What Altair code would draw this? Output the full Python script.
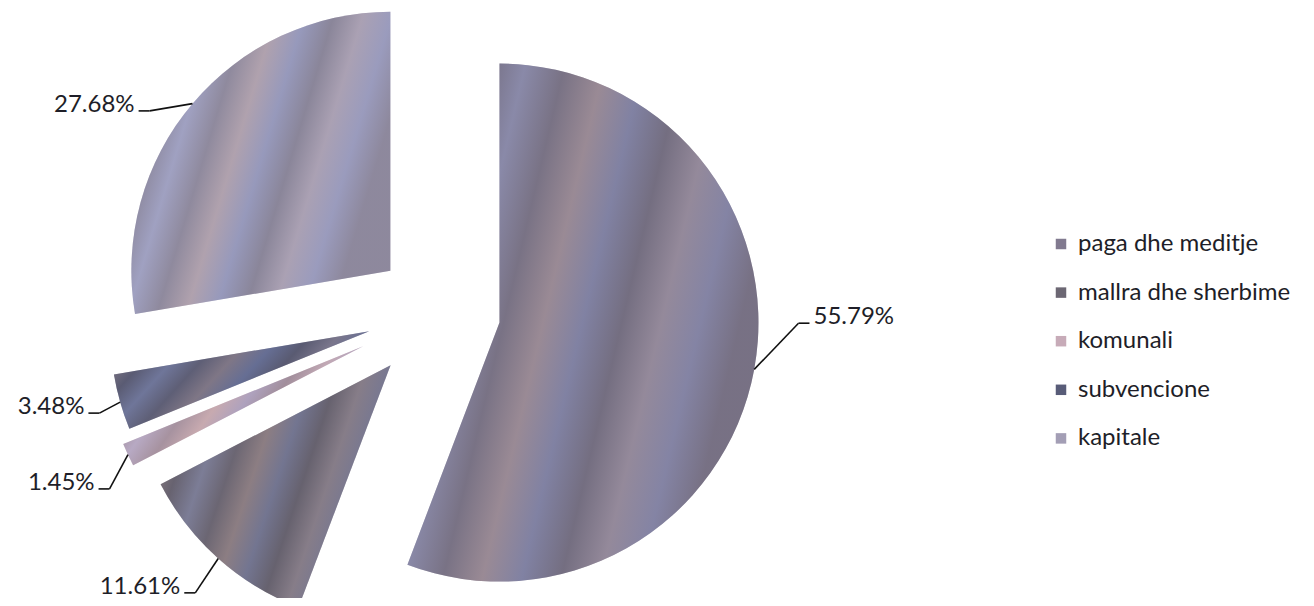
import altair as alt
import pandas as pd

# ---- data ----
categories = ["paga dhe meditje", "mallra dhe sherbime", "komunali", "subvencione", "kapitale"]
shares = [55.79, 11.61, 1.45, 3.48, 27.68]

# ---- styling / layout ----
colors = ["#817a8f", "#6c6773", "#c7abb8", "#585c78", "#a39eb5"]
explode = [62, 72, 83, 72, 63]          # px slice explosion
label_ext = [40, 41, 32, 23, 30]        # px beyond the rim for label elbow
label_shift = [-10.3, -1.1, -4.6, -1.0, -6.6]  # deg shift of label angle
CX, CY, R = 430.5, 303.4, 259
FONT = "Lato"

df = pd.DataFrame({
    "cat": categories,
    "share": shares,
    "order": list(range(len(categories))),
    "explode": explode,
    "ext": label_ext,
    "shift": label_shift,
})

base = (
    alt.Chart(df)
    .transform_window(cum="sum(share)", sort=[alt.SortField("order")], frame=[None, 0])
    .transform_joinaggregate(total="sum(share)")
    .transform_calculate(a1="2*PI*datum.cum/datum.total")
    .transform_calculate(a0="datum.a1 - 2*PI*datum.share/datum.total")
    .transform_calculate(mid="(datum.a0 + datum.a1)/2")
    .transform_calculate(cx=f"{CX} + datum.explode*sin(datum.mid)")
    .transform_calculate(cy=f"{CY} - datum.explode*cos(datum.mid)")
    .transform_calculate(px=f"datum.cx + {R}*sin(datum.mid)")
    .transform_calculate(py=f"datum.cy - {R}*cos(datum.mid)")
    .transform_calculate(la="datum.mid + datum.shift*PI/180")
    .transform_calculate(ex=f"datum.cx + ({R} + datum.ext)*sin(datum.la)")
    .transform_calculate(ey=f"datum.cy - ({R} + datum.ext)*cos(datum.la)")
    .transform_calculate(side="sin(datum.la) >= 0 ? 1 : -1")
    .transform_calculate(hx="datum.ex + 11*datum.side")
    .transform_calculate(tx="datum.ex + 15*datum.side")
    .transform_calculate(label="format(datum.share, '.2f') + '%'")
)

pos = dict(
    x=alt.X("cx:Q", scale=None, axis=None),
    y=alt.Y("cy:Q", scale=None, axis=None),
    theta=alt.Theta("a0:Q", scale=None),
    theta2="a1:Q",
)

arcs = base.mark_arc(radius=R, strokeWidth=0).encode(
    color=alt.Color(
        "cat:N",
        scale=alt.Scale(domain=categories, range=colors),
        sort=categories,
        legend=alt.Legend(
            title=None, orient="none", legendX=1041, legendY=224,
            symbolType="square", symbolSize=110, symbolStrokeWidth=0,
            labelFontSize=24, labelFont=FONT, labelColor="#1e1e28",
            rowPadding=24.6, labelOffset=5, padding=0, labelLimit=400,
        ),
    ),
    **pos,
)

stripes = alt.LinearGradient(
    gradient="linear", x1=0, y1=0, x2=1, y2=0.35,
    stops=[
        alt.GradientStop(offset=0.0, color="#8c98d0"),
        alt.GradientStop(offset=0.1, color="#c2a49a"),
        alt.GradientStop(offset=0.2, color="#5e5a6a"),
        alt.GradientStop(offset=0.3, color="#9aa6d8"),
        alt.GradientStop(offset=0.4, color="#6a6472"),
        alt.GradientStop(offset=0.5, color="#c8a8a0"),
        alt.GradientStop(offset=0.6, color="#8090c8"),
        alt.GradientStop(offset=0.7, color="#5c5866"),
        alt.GradientStop(offset=0.8, color="#b8a6b0"),
        alt.GradientStop(offset=0.9, color="#8a96cc"),
        alt.GradientStop(offset=1.0, color="#666070"),
    ],
)
texture = base.mark_arc(radius=R, fill=stripes, fillOpacity=0.35, strokeWidth=0).encode(**pos)

leader1 = base.mark_rule(color="#111111", strokeWidth=1.6).encode(
    x=alt.X("px:Q", scale=None), y=alt.Y("py:Q", scale=None),
    x2="ex:Q", y2="ey:Q",
)
leader2 = base.mark_rule(color="#111111", strokeWidth=1.6).encode(
    x=alt.X("ex:Q", scale=None), y=alt.Y("ey:Q", scale=None),
    x2="hx:Q", y2="ey:Q",
)

text_r = base.transform_filter("datum.side > 0").mark_text(
    align="left", baseline="alphabetic", font=FONT, fontSize=24, color="#1e1e28", dy=1
).encode(x=alt.X("tx:Q", scale=None), y=alt.Y("ey:Q", scale=None), text="label:N")
text_l = base.transform_filter("datum.side < 0").mark_text(
    align="right", baseline="alphabetic", font=FONT, fontSize=24, color="#1e1e28", dy=1
).encode(x=alt.X("tx:Q", scale=None), y=alt.Y("ey:Q", scale=None), text="label:N")

chart = (
    alt.layer(arcs, texture, leader1, leader2, text_r, text_l)
    .properties(width=1298, height=590, padding=0, autosize="none")
    .configure_view(stroke=None)
)

chart.save("out.html", embed_options={"renderer": "svg", "actions": False})
